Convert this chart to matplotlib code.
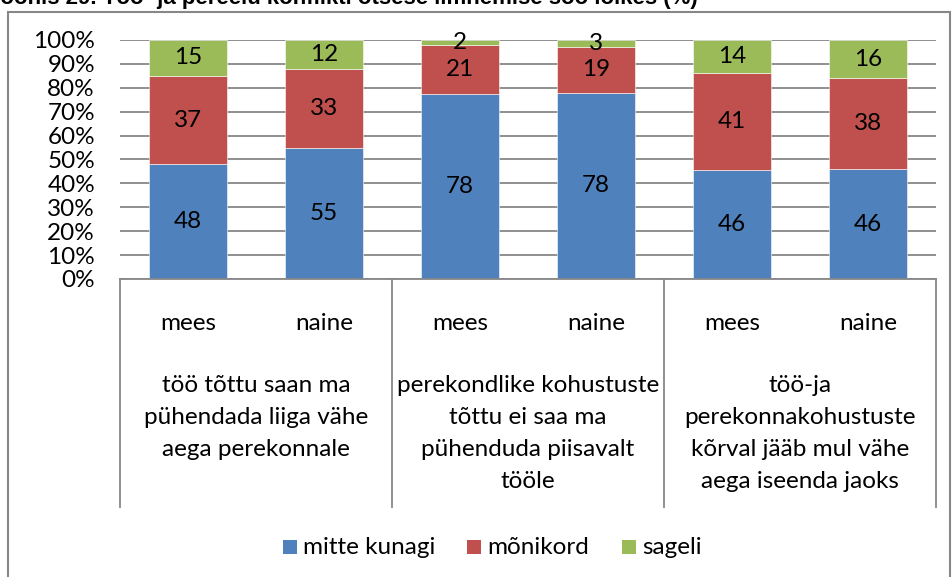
import matplotlib
matplotlib.use("Agg")
import matplotlib.pyplot as plt
from matplotlib.patches import Rectangle
from matplotlib.lines import Line2D
import numpy as np

# ---- data ----
groups = ["töö tõttu saan ma\npühendada liiga vähe\naega perekonnale",
          "perekondlike kohustuste\ntõttu ei saa ma\npühenduda piisavalt\ntööle",
          "töö-ja\nperekonnakohustuste\nkõrval jääb mul vähe\naega iseenda jaoks"]
genders = ["mees", "naine"]
series_names = ["mitte kunagi", "mõnikord", "sageli"]
mitte_kunagi = [48, 55, 78, 78, 46, 46]
monikord = [37, 33, 21, 19, 41, 38]
sageli = [15, 12, 2, 3, 14, 16]
yticks = [0, 10, 20, 30, 40, 50, 60, 70, 80, 90, 100]
title = "Joonis 29. Töö- ja pereelu konflikti otsese ilmnemise soo lõikes (%)"

colors = ["#4F81BD", "#C0504D", "#9BBB59"]
FONT = "Lato"
FS = 17.5
W, H = 953, 577
fig = plt.figure(figsize=(W / 100, H / 100), dpi=100)

def fx(px):
    return px / W

def fy(py):
    return 1 - py / H

L, R, T, B = 120, 936, 40, 279
ax = fig.add_axes([fx(L), fy(B), fx(R - L), (B - T) / H])

vals = np.array([mitte_kunagi, monikord, sageli], dtype=float)
totals = vals.sum(axis=0)
pct = vals / totals * 100
n = vals.shape[1]
x = np.arange(n)
bottom = np.zeros(n)
for i in range(3):
    ax.bar(x, pct[i], bottom=bottom, width=0.57, color=colors[i],
           edgecolor="white", linewidth=0.4, zorder=3)
    for j in range(n):
        ax.text(x[j], bottom[j] + pct[i][j] / 2, f"{int(vals[i][j])}",
                ha="center", va="center", fontsize=FS, family=FONT,
                color="black", zorder=4)
    bottom += pct[i]

ax.set_xlim(-0.5, n - 0.5)
ax.set_ylim(0, 100)
ax.set_yticks(yticks)
ax.set_yticklabels([f"{t}%" for t in yticks], fontsize=FS, family=FONT)
ax.tick_params(axis="y", length=0, pad=18)
ax.set_xticks([])
for s in ax.spines.values():
    s.set_visible(False)
for t in yticks:
    ax.axhline(t, color="#878787", lw=1.3, zorder=1)

# category box
gray = "#878787"
def fline(x0, y0, x1, y1):
    fig.add_artist(Line2D([fx(x0), fx(x1)], [fy(y0), fy(y1)], color=gray, lw=1.3))

slot = (R - L) / n
fline(L, B, R, B)
for k in range(4):
    xv = L + k * 2 * slot
    fline(xv, B, xv, 507)

for j in range(n):
    cx = L + (j + 0.5) * slot
    fig.text(fx(cx), fy(324), genders[j % 2], ha="center", va="center",
             fontsize=FS, family=FONT)
for g in range(3):
    cx = L + (2 * g + 1) * slot
    for li, line in enumerate(groups[g].split("\n")):
        fig.text(fx(cx), fy(386 + 32 * li), line, ha="center", va="center",
                 fontsize=FS, family=FONT)

# outer border
fig.add_artist(Rectangle((fx(8), fy(600)), fx(942), (600 - 12) / H,
                         fill=False, edgecolor=gray, lw=1.5))

# title (partially cut off at top, as in the reference)
fig.text(fx(-12), fy(4), title, ha="left", va="baseline", fontsize=16,
         fontweight="bold", family="Liberation Sans")

# legend (manual placement)
sq_x = [283, 467, 622]
for i, name in enumerate(series_names):
    fig.add_artist(Rectangle((fx(sq_x[i]), fy(554)), fx(14), 14 / H,
                             facecolor=colors[i], edgecolor="none"))
    fig.text(fx(sq_x[i] + 20), fy(547), name, ha="left", va="center",
             fontsize=FS, family=FONT)

fig.savefig("out.png", dpi=100)
